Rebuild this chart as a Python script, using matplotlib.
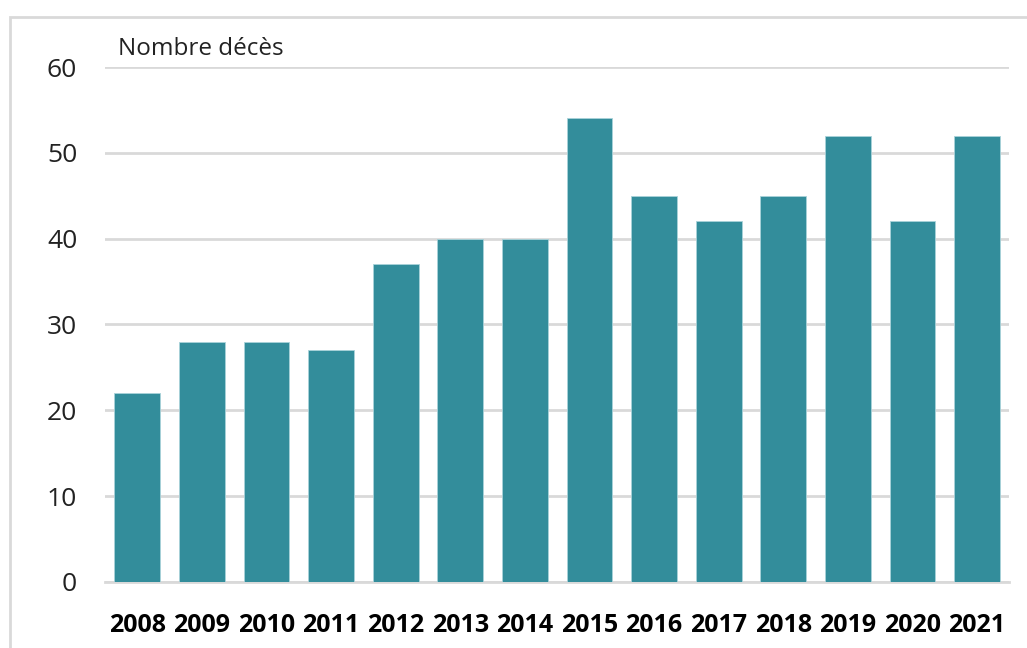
import matplotlib
matplotlib.use('Agg')
import matplotlib.pyplot as plt
import numpy as np

plt.rcParams['font.family'] = ['Open Sans', 'DejaVu Sans']

years = ['2008', '2009', '2010', '2011', '2012', '2013', '2014',
         '2015', '2016', '2017', '2018', '2019', '2020', '2021']
deaths = [22, 28, 28, 27, 37, 40, 40, 54, 45, 42, 45, 52, 42, 52]

fig = plt.figure(figsize=(10.27, 6.48), dpi=100)
ax = fig.add_axes([0.1022, 0.1019, 0.8806, 0.7947])

x = np.arange(len(years))
ax.bar(x, deaths, width=0.71, color='#338D9B', edgecolor='#A9D3DA', linewidth=0.6, zorder=3)

ax.set_xlim(-0.5, len(years) - 0.5)
ax.set_ylim(0, 60)
ax.set_yticks(range(0, 61, 10))
ax.set_xticks(x)
ax.set_xticklabels(years, fontweight='bold')
ax.tick_params(axis='y', length=0, pad=20, labelsize=19, colors='#222222')
ax.tick_params(axis='x', length=0, pad=22, labelsize=18, colors='black')
ax.yaxis.grid(True, color='#D9D9D9', linewidth=2)
for s in ['top', 'right', 'left']:
    ax.spines[s].set_visible(False)
ax.spines['bottom'].set_color('#D9D9D9')
ax.spines['bottom'].set_linewidth(2)

ax.text(0.014, 1.012, 'Nombre décès', transform=ax.transAxes, fontsize=17.5,
        ha='left', va='bottom', color='#222222')

# outer frame
fig.patches.append(plt.Rectangle((10 / 1027, -0.1), 1.2, 1 - 17 / 648 + 0.1,
                                 transform=fig.transFigure, fill=False,
                                 edgecolor='#D9D9D9', linewidth=2))

fig.savefig('out.png', dpi=100)
